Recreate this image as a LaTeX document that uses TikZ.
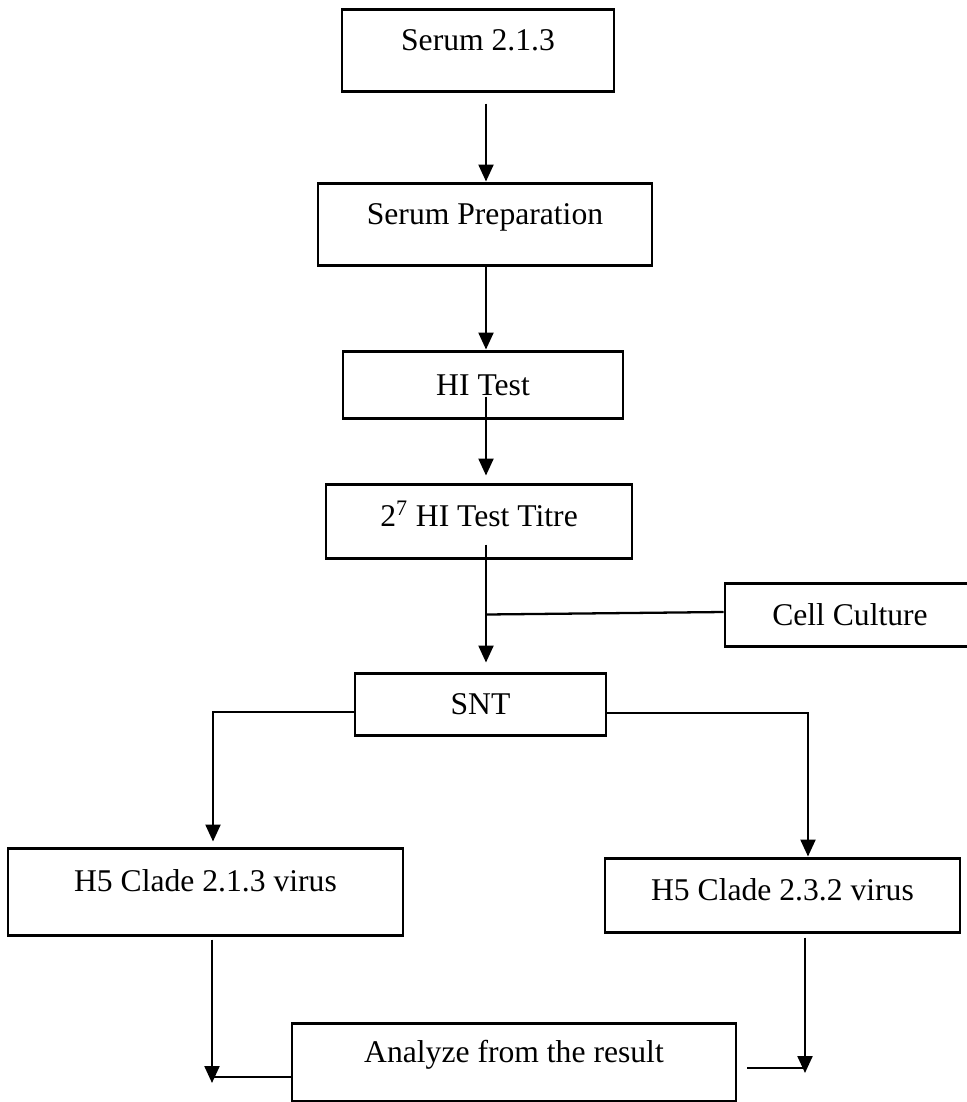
\documentclass[tikz,border=0pt]{standalone}
\usepackage{fontspec}
\setmainfont{Liberation Serif}
\usepackage{tikz}
\usetikzlibrary{arrows.meta}

\begin{document}
\begin{tikzpicture}[
		stage/.style={draw, line width=1.7pt, inner sep=0pt, text height=0.4cm, text depth=0.4cm, font=\fontsize{18}{20}\selectfont},
		stagemid/.style={stage, text height=0.42cm, text depth=0cm},
		link/.style={line width=1.3pt},
		arr/.style={link, -{Triangle[length=0.34cm, width=0.3cm]}}
	]
	\useasboundingbox (0,0) rectangle (19.34,-22.04);
	
	% main column
	\node[stage, minimum width=5.44cm, minimum height=1.64cm] (ser) at (9.56,-1.0) {Serum 2.1.3};
	\node[stage, minimum width=6.68cm, minimum height=1.64cm] (prep) at (9.70,-4.48) {Serum Preparation};
	\node[stagemid, minimum width=5.60cm, minimum height=1.34cm] (hi) at (9.66,-7.69) {HI Test};
	\node[stage, text height=0.42cm, text depth=0.2cm, minimum width=6.12cm, minimum height=1.48cm] (titre) at (9.58,-10.42) {2\textsuperscript{7} HI Test Titre};
	\node[stagemid, minimum width=5.0cm, minimum height=1.26cm] (cell) at (17.0,-12.29) {Cell Culture};
	\node[stagemid, minimum width=5.02cm, minimum height=1.24cm] (snt) at (9.61,-14.08) {SNT};
	
	% the two clades
	\node[stage, minimum width=7.90cm, minimum height=1.74cm] (v213) at (4.11,-17.83) {H5 Clade 2.1.3 virus};
	\node[stage, text height=0.42cm, text depth=0.2cm, minimum width=7.10cm, minimum height=1.48cm] (v232) at (15.65,-17.90) {H5 Clade 2.3.2 virus};
	\node[stage, minimum width=8.88cm, minimum height=1.56cm] (ana) at (10.28,-21.24) {Analyze from the result};
	
	\coordinate (col) at (9.72,0);
	\coordinate (lft) at (4.26,0);
	\coordinate (rgt) at (16.16,0);
	\coordinate (ltip) at (4.24,-21.66);
	\coordinate (lmeet) at (4.24,-21.54);
	\coordinate (rtip) at (16.10,-21.46);
	\coordinate (rmeet) at (16.10,-21.36);
	
	\draw[arr, shorten <=0.22cm] (col |- ser.south) -- (col |- prep.north);
	\draw[arr] (col |- prep.south) -- (col |- hi.north);
	\draw[arr, shorten <=-0.46cm, shorten >=0.14cm] (col |- hi.south) -- (col |- titre.north);
	\draw[arr, shorten <=-0.3cm, shorten >=0.18cm] (col |- titre.south) -- (col |- snt.north);
	\draw[link] ([yshift=0.05cm]cell.west) -- (col |- cell.west);
	
	\draw[arr, shorten >=0.1cm] ([yshift=-0.16cm]snt.west) -| (lft |- v213.north);
	\draw[arr] ([yshift=-0.18cm]snt.east) -| (rgt |- v232.north);
	
	\draw[arr, shorten <=0.06cm] (v213.south -| ltip) -- (ltip);
	\draw[link] (ana.west |- lmeet) -- (lmeet);
	\draw[arr, shorten <=0.08cm] (v232.south -| rtip) -- (rtip);
	\draw[link, shorten <=0.2cm] (ana.east |- rmeet) -- (rmeet);
\end{tikzpicture}
\end{document}
